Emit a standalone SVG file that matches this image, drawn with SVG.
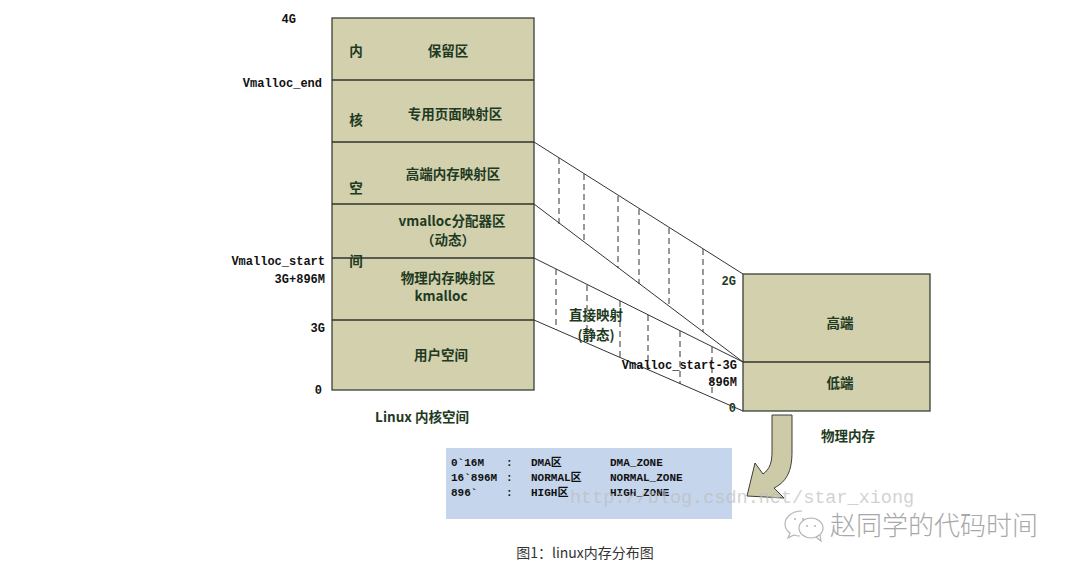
<svg xmlns="http://www.w3.org/2000/svg" width="1080" height="574" viewBox="0 0 1080 574">
<style>
.box{fill:#d2d0ad;stroke:#3a3f36;stroke-width:1.3}
.div{stroke:#2e332c;stroke-width:1.3;fill:none}
.ln{stroke:#333;stroke-width:1;fill:none}
.dash{stroke:#333;stroke-width:1;stroke-dasharray:6,4;fill:none}
.cn{font-family:"Noto Sans CJK SC",sans-serif;font-size:13.5px;font-weight:700;fill:#1e3a22;text-anchor:middle}
.mono{font-family:"Liberation Mono",monospace;font-weight:700;fill:#111;font-size:12px}
.g{fill:#1e3a22}
.tbl{font-family:"Liberation Mono","Noto Sans CJK SC",monospace;font-weight:700;font-size:11px;fill:#111}
</style>
<rect width="1080" height="574" fill="#fff"/>
<g id="left-box">
<rect class="box" x="332" y="18" width="202" height="372"/>
<line class="div" x1="332" y1="80" x2="534" y2="80"/>
<line class="div" x1="332" y1="142" x2="534" y2="142"/>
<line class="div" x1="332" y1="204" x2="534" y2="204"/>
<line class="div" x1="332" y1="258" x2="534" y2="258"/>
<line class="div" x1="332" y1="320" x2="534" y2="320"/>
<g class="cn">
<text x="356" y="56">内</text>
<text x="356" y="125">核</text>
<text x="356" y="193">空</text>
<text x="356" y="266">间</text>
<text x="448" y="56">保留区</text>
<text x="455" y="119">专用页面映射区</text>
<text x="453" y="179">高端内存映射区</text>
<text x="452" y="226">vmalloc分配器区</text>
<text x="448" y="245">（动态）</text>
<text x="448" y="283">物理内存映射区</text>
<text x="441" y="301">kmalloc</text>
<text x="441" y="360">用户空间</text>
</g>
</g>
<g id="left-labels">
<text class="mono" x="296" y="23" text-anchor="end" font-size="10">4G</text>
<text class="mono" x="322" y="87" text-anchor="end">Vmalloc_end</text>
<text class="mono" x="325" y="265" text-anchor="end" font-size="10.5">Vmalloc_start</text>
<text class="mono" x="325" y="283" text-anchor="end" font-size="10.5">3G+896M</text>
<text class="mono" x="325" y="332" text-anchor="end" font-size="14">3G</text>
<text class="mono" x="322" y="394" text-anchor="end" font-size="13">0</text>
<text class="cn" x="422" y="422" font-size="12.5" style="fill:#1e3a22">Linux 内核空间</text>
</g>
<g id="connectors">
<line class="ln" x1="534" y1="142" x2="743" y2="274"/>
<line class="ln" x1="534" y1="204" x2="743" y2="362"/>
<line class="ln" x1="534" y1="258" x2="743" y2="362"/>
<line class="ln" x1="534" y1="320" x2="743" y2="411"/>
<line class="dash" x1="559" y1="158" x2="559" y2="224"/>
<line class="dash" x1="584" y1="174" x2="584" y2="243"/>
<line class="dash" x1="618" y1="196" x2="618" y2="268"/>
<line class="dash" x1="639" y1="209" x2="639" y2="284"/>
<line class="dash" x1="669" y1="228" x2="669" y2="307"/>
<line class="dash" x1="703" y1="249" x2="703" y2="332"/>
<line class="dash" x1="556" y1="269" x2="556" y2="330"/>
<line class="dash" x1="587" y1="285" x2="587" y2="344"/>
<line class="dash" x1="620" y1="301" x2="620" y2="358"/>
<line class="dash" x1="648" y1="315" x2="648" y2="370"/>
<line class="dash" x1="680" y1="331" x2="680" y2="384"/>
<line class="dash" x1="712" y1="347" x2="712" y2="398"/>
</g>
<g id="mapping-labels">
<text class="cn" x="596" y="320" font-size="10" font-weight="400">直接映射</text>
<text class="cn" x="596" y="340" font-size="10" font-weight="400">(静态)</text>
<text class="mono g" x="736" y="285" text-anchor="end" font-size="12">2G</text>
<text class="mono" x="737" y="369" text-anchor="end" font-size="11">Vmalloc_start-3G</text>
<text class="mono" x="737" y="386" text-anchor="end" font-size="11">896M</text>
<text class="mono g" x="736" y="412" text-anchor="end" font-size="13">0</text>
</g>
<g id="right-box">
<rect class="box" x="743" y="274" width="187" height="137"/>
<line class="div" x1="743" y1="362" x2="930" y2="362"/>
<text class="cn" x="840" y="328">高端</text>
<text class="cn" x="840" y="388">低端</text>
<text class="cn" x="848" y="441" font-size="13">物理内存</text>
</g>
<g id="curved-arrow">
<path d="M772,415 L792,415 L792,452 C792,472 786,482 774,488 L784,498 L747,496 L755,463 L763,474 C770,469 772,462 772,452 Z" fill="#cdcba7" stroke="#3a3f36" stroke-width="1"/>
</g>
<g id="zone-table">
<rect x="446" y="448" width="286" height="71" fill="#c5d5ec"/>
<g class="tbl">
<text x="451" y="466">0`16M</text>
<text x="506" y="466">:</text>
<text x="531" y="466">DMA区</text>
<text x="610" y="466">DMA_ZONE</text>
<text x="451" y="481">16`896M</text>
<text x="506" y="481">:</text>
<text x="531" y="481">NORMAL区</text>
<text x="610" y="481">NORMAL_ZONE</text>
<text x="451" y="496">896`</text>
<text x="506" y="496">:</text>
<text x="531" y="496">HIGH区</text>
<text x="610" y="496">HIGH_ZONE</text>
</g>
</g>
<g id="watermark">
<text x="570" y="503" font-family="Liberation Mono,monospace" font-size="18.5" fill="#bdbdbd" fill-opacity="0.7">http://blog.csdn.net/star_xiong</text>
<g fill="none" stroke="#b5b5b5" stroke-width="1.2">
<path d="M802,511 C791,511 785,518 785,524 C785,528 787,531 790,533 L788,538 L794,535 C796,536 798,536 800,536"/>
<ellipse cx="811" cy="528" rx="12" ry="10"/>
<path d="M816,537 L821,541 L820,535"/>
</g>
<g fill="#b5b5b5"><circle cx="795" cy="519" r="1"/><circle cx="803" cy="519" r="1"/><circle cx="807" cy="526" r="1"/><circle cx="815" cy="526" r="1"/></g>
<text x="830" y="535" font-family="Noto Sans CJK SC,sans-serif" font-size="26" fill="#a8a8a8" font-weight="300">赵同学的代码时间</text>
</g>
<text x="585" y="558" text-anchor="middle" font-family="Noto Sans CJK SC,sans-serif" font-size="14" fill="#333">图1：linux内存分布图</text>
</svg>
